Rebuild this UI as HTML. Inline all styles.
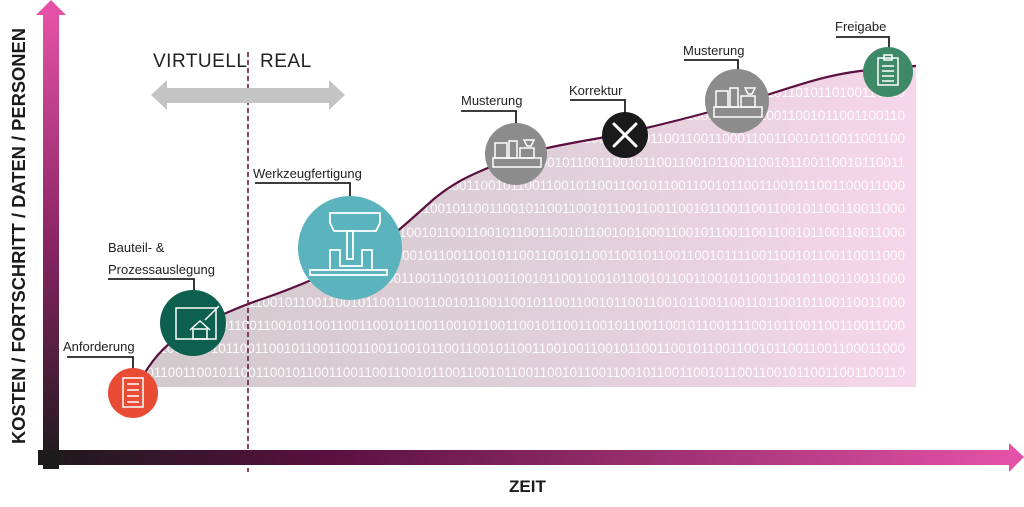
<!DOCTYPE html>
<html><head><meta charset="utf-8"><style>
html,body{margin:0;padding:0;background:#fff}
svg{display:block}
text{font-family:"Liberation Sans",sans-serif}
</style></head><body>
<svg width="1024" height="507" viewBox="0 0 1024 507" xmlns="http://www.w3.org/2000/svg">
<defs>
<linearGradient id="gy" x1="0" y1="0" x2="0" y2="1">
<stop offset="0" stop-color="#e352a6"/><stop offset="0.5" stop-color="#8a2463"/><stop offset="1" stop-color="#1c1a1b"/></linearGradient>
<linearGradient id="gx" x1="0" y1="0" x2="1" y2="0">
<stop offset="0" stop-color="#1c1a1b"/><stop offset="0.3" stop-color="#5a1040"/><stop offset="1" stop-color="#e352a6"/></linearGradient>
<linearGradient id="ga" x1="0" y1="0" x2="1" y2="0">
<stop offset="0" stop-color="#d2cacd"/><stop offset="0.6" stop-color="#e2d0da"/><stop offset="1" stop-color="#f6d6ea"/></linearGradient>
<clipPath id="cp"><path d="M143,376 C155,355 170,340 190,330 C215,318 235,308 265,298 C300,286 330,272 360,258 C390,240 410,220 435,198 C455,182 470,175 500,163 C530,150 560,145 600,138 C650,128 700,115 745,102 C790,88 820,76 860,71 C885,68 900,67 916,66 L916,387 L150,387 Z"/></clipPath>
</defs>
<path d="M143,376 C155,355 170,340 190,330 C215,318 235,308 265,298 C300,286 330,272 360,258 C390,240 410,220 435,198 C455,182 470,175 500,163 C530,150 560,145 600,138 C650,128 700,115 745,102 C790,88 820,76 860,71 C885,68 900,67 916,66 L916,387 L150,387 Z" fill="url(#ga)"/>
<g clip-path="url(#cp)" fill="#fff" font-size="13.5" text-anchor="end" opacity="0.9">
<text x="905" y="97">1001011001100101100110010110011001011001100101101101001101101001101011010110100110110</text>
<text x="905" y="120">1001011001100101100110010110011001011001100101100110011001011001100101100110011001011001100110</text>
<text x="905" y="143">10010110011001011001100101100110010110011001011001100110010110011001011001100110001100110010110011001100</text>
<text x="905" y="167">1001011001100101100110010110011001011001100101100110011001011100101100110010110011001011001100101100110010110011</text>
<text x="905" y="190">10010110011001011001100101100110010110011001011001100101100110010110011001011001100101100110010110011001011001100011000</text>
<text x="905" y="213">100101100110010110011001011001100101100110010110011001011001100101100110010110011001011001100110010110011001100101100110011000</text>
<text x="905" y="237">100101100110010110011001011001100101100110010110011001011001100101100110010110011001011001001000110010110011001100101100110011000</text>
<text x="905" y="260">100101100110010110011001011001100101100110010110011001001011001100101100110010110011001011001100101111001100101100110011000</text>
<text x="905" y="283">1001011001100101100110010110011001011001100101100110011001011001100101100110010110010110011001011001100101100110011000</text>
<text x="905" y="307">10010110011001011001100101100110010110011001011001100110010110011001011001100101100110010110011001101100101100110011000</text>
<text x="905" y="330">10010110011001011001100101100110010110011001011001100110010110011001011001100101100110010110011001011001111001011001100110011000</text>
<text x="905" y="353">10010110011001011001100101100110010110011001011001100110011001011001100101100110010011001011001100101100110010110011001100011000</text>
<text x="905" y="377">10010110011001011001100101100110010110011001011001100110011001011001100101100110010110011001011001100101100110010110011001100110</text>
</g>
<path d="M143,376 C155,355 170,340 190,330 C215,318 235,308 265,298 C300,286 330,272 360,258 C390,240 410,220 435,198 C455,182 470,175 500,163 C530,150 560,145 600,138 C650,128 700,115 745,102 C790,88 820,76 860,71 C885,68 900,67 916,66" fill="none" stroke="#5a1040" stroke-width="2.2"/>
<line x1="248" y1="52" x2="248" y2="472" stroke="#6a1a4a" stroke-width="1.6" stroke-dasharray="5,3"/>
<rect x="43" y="14" width="16" height="455" fill="url(#gy)"/>
<polygon points="36,15 51,0 66,15" fill="#e352a6"/>
<rect x="38" y="450" width="974" height="15" fill="url(#gx)"/>
<polygon points="1009,443 1024,457 1009,472" fill="#e352a6"/>
<rect x="43" y="450" width="16" height="19" fill="#1c1a1b"/>
<text transform="translate(25,444) rotate(-90)" font-size="18.5" font-weight="bold" fill="#1c1a1b" textLength="416" lengthAdjust="spacingAndGlyphs">KOSTEN / FORTSCHRITT / DATEN / PERSONEN</text>
<text x="509" y="492" font-size="17" font-weight="bold" fill="#1c1a1b">ZEIT</text>
<text x="153" y="67" font-size="19" fill="#222" letter-spacing="0.5">VIRTUELL</text>
<text x="260" y="67" font-size="19" fill="#222" letter-spacing="0.5">REAL</text>
<polygon points="151,95 167,80 167,88 329,88 329,80 345,95 329,110 329,103 167,103 167,110" fill="#c4c4c4"/>
<g font-size="13" fill="#222">
<text x="63" y="351">Anforderung</text>
<text x="108" y="252">Bauteil- &amp;</text>
<text x="108" y="274">Prozessauslegung</text>
<text x="253" y="178">Werkzeugfertigung</text>
<text x="461" y="105">Musterung</text>
<text x="569" y="95">Korrektur</text>
<text x="683" y="55">Musterung</text>
<text x="835" y="31">Freigabe</text>
</g>
<g fill="none" stroke="#222" stroke-width="1.8">
<polyline points="67,357 133,357 133,370"/>
<polyline points="108,279 194,279 194,292"/>
<polyline points="255,183 350,183 350,198"/>
<polyline points="461,111 516,111 516,124"/>
<polyline points="570,100 625,100 625,113"/>
<polyline points="684,60 738,60 738,72"/>
<polyline points="836,37 889,37 889,48"/>
</g>
<circle cx="133" cy="393" r="25" fill="#e84c35"/>
<g stroke="#fff" stroke-width="1.5" fill="none"><rect x="123" y="378" width="20" height="29"/><line x1="127" y1="384" x2="139" y2="384"/><line x1="127" y1="390" x2="139" y2="390"/><line x1="127" y1="396" x2="139" y2="396"/><line x1="127" y1="402" x2="139" y2="402"/></g>
<circle cx="193" cy="323" r="33" fill="#0d5f4e"/>
<g stroke="#fff" stroke-width="1.5" fill="none"><rect x="176" y="308" width="40" height="31"/><polyline points="190,330 200,321 210,330"/><rect x="193" y="329" width="14" height="10"/><line x1="205" y1="320" x2="219" y2="306"/></g>
<circle cx="350" cy="248" r="52" fill="#5bb4bd"/>
<g stroke="#fff" stroke-width="1.8" fill="none"><path d="M330,213 h50 v10 l-4,8 h-42 l-4,-8 z"/><rect x="347" y="231" width="6" height="28"/><polyline points="330,270 330,250 340,250 340,266 362,266 362,250 372,250 372,270"/><rect x="310" y="270" width="77" height="5"/></g>
<circle cx="516" cy="154" r="31" fill="#8c8c8c"/>
<g stroke="#fff" stroke-width="1.5" fill="none"><rect x="493" y="158" width="48" height="9"/><rect x="495" y="143" width="12" height="15"/><rect x="509" y="141" width="8" height="17"/><rect x="520" y="148" width="14" height="10"/><path d="M524,140 h10 l-3,6 h-4z"/></g>
<circle cx="625" cy="135" r="23" fill="#1a1a1a"/>
<g stroke="#fff" stroke-width="3" stroke-linecap="round"><line x1="614" y1="124" x2="636" y2="146"/><line x1="636" y1="124" x2="614" y2="146"/></g>
<circle cx="737" cy="101" r="32" fill="#8c8c8c"/>
<g stroke="#fff" stroke-width="1.5" fill="none"><rect x="714" y="107" width="48" height="10"/><rect x="716" y="91" width="12" height="16"/><rect x="730" y="88" width="8" height="19"/><rect x="741" y="96" width="14" height="11"/><path d="M745,88 h10 l-3,6 h-4z"/></g>
<circle cx="888" cy="72" r="25" fill="#3e8a68"/>
<g stroke="#fff" stroke-width="1.5" fill="none"><rect x="878" y="58" width="20" height="27"/><rect x="884" y="55" width="8" height="5"/><line x1="882" y1="66" x2="894" y2="66"/><line x1="882" y1="71" x2="894" y2="71"/><line x1="882" y1="76" x2="894" y2="76"/><line x1="882" y1="81" x2="894" y2="81"/></g>
</svg>
</body></html>
